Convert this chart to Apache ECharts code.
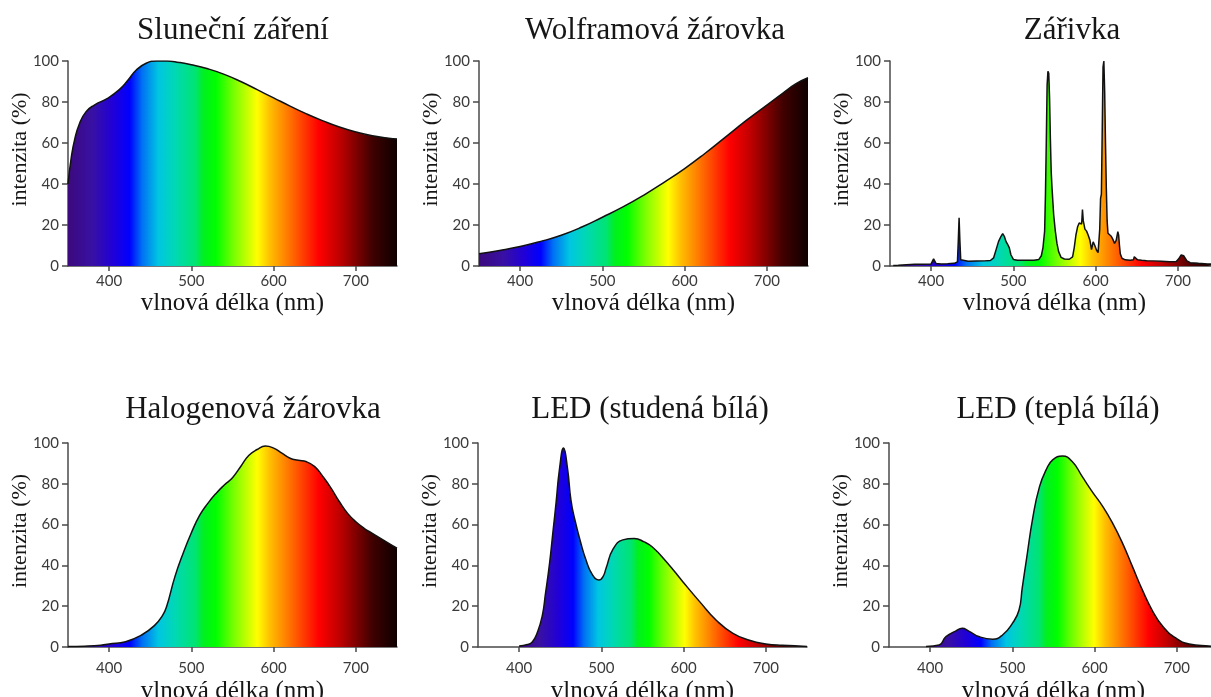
<!DOCTYPE html>
<html><head><meta charset="utf-8">
<script src="https://cdn.jsdelivr.net/npm/echarts@6/dist/echarts.min.js"></script>
<style>html,body{margin:0;padding:0;background:#fff}#c{width:1211px;height:697px}</style>
</head><body><div id="c"></div>
<script>
// ---------- data ----------
const xTicks = [400, 500, 600, 700];
const xAxisName = 'vlnová délka (nm)';
const yAxisName = 'intenzita (%)';
const titles = ['Sluneční záření', 'Wolframová žárovka', 'Zářivka', 'Halogenová žárovka', 'LED (studená bílá)', 'LED (teplá bílá)'];

// spectrum colour stops (relative position along each filled area, from its first to its last point)
const spectrumStops = [0, 0.075, 0.1375, 0.1875, 0.225, 0.275, 0.325, 0.3875, 0.4125, 0.45, 0.5, 0.5375, 0.575, 0.6125, 0.65, 0.7, 0.7625, 0.825, 0.875, 0.925, 1];
const spectrumColors = ['#3c0a7c', '#3810a4', '#2000d8', '#0000ff', '#0070f4', '#00c6e2', '#00d8b4', '#00e472', '#00f020', '#00ff00', '#70ff00', '#b8ff00', '#ffff00', '#ffc000', '#ff9000', '#ff5000', '#ff0000', '#c00000', '#800000', '#400000', '#0e0000'];

const sunData = [[350,40],[354,53],[358,61.5],[364,69.5],[372,75.3],[382,78.5],[398,81.8],[412,85.9],[423,90.7],[433,95.6],[445,98.9],[458,100],[470,100],[485,99.3],[500,98.2],[520,96.2],[540,93.5],[560,90],[580,86],[600,82],[620,78],[640,74.2],[660,70.8],[680,67.8],[700,65.4],[720,63.5],[740,62.3],[750,62]];

const tungstenData = [[350,6],[375,7.6],[400,9.5],[425,12],[450,15],[475,19],[500,23.8],[525,28.8],[550,34.5],[575,40.8],[600,47.5],[625,55],[650,63],[675,71],[700,78.5],[720,84.5],[735,88.8],[750,91.8]];

const fluorescentData = [[354,0.3],[360,0.4],[370,0.6],[380,0.8],[390,0.9],[400,1.0],[402,1.3],[403,3.5],[404,4],[405,2.8],[406,1.2],[412,1.0],[420,1.1],[428,1.3],[432,2],[433,12],[434,23.5],[435,12],[436,3],[438,2.2],[445,2.3],[455,2.4],[465,2.5],[472,2.7],[476,4],[479,8],[482,12],[485,14.5],[487,15.8],[489,14.5],[491,12],[493,10.5],[495,9],[497,5.5],[500,3.2],[505,2.8],[515,2.8],[525,2.8],[531,3.2],[534,5],[536,9],[538,17],[539,35],[540,60],[541,88],[542,95],[543,94],[544,82],[545,62],[546,46],[547,38],[549,25],[551,17],[553,11],[555,7],[558,4.2],[562,3.4],[568,3.3],[572,4.5],[574,9],[576,15],[578,19],[580,21],[582,21.5],[583,20.5],[584,27.5],[585,22],[587,18],[589,17],[591,15],[593,12.7],[595,8],[597,11.8],[599,10],[601,7.8],[603,6.5],[605,18],[606,33],[607,35],[608,65],[609,97],[610,100],[611,85],[612,60],[613,38],[614,22],[615,16],[617,15.5],[619,14.5],[621,13],[623,11],[625,12.5],[627,16.8],[628,15],[629,10],[630,6],[632,3.8],[636,3.0],[642,2.8],[646,3],[647,4.5],[648,5.4],[649,4],[651,3],[656,2.8],[662,2.6],[670,2.5],[680,2.3],[690,2.1],[698,2.2],[701,3.5],[704,5.4],[707,5],[709,4.2],[711,2.5],[715,1.6],[725,1.3],[736,1.0],[750,0.9]];

const halogenData = [[350,0.2],[370,0.4],[390,0.9],[400,1.5],[420,2.6],[440,6],[455,10.5],[465,15.5],[470,20],[480,34.5],[490,46],[500,56],[510,64.5],[520,70.4],[530,75.3],[540,79.4],[550,83],[560,88.5],[570,94],[580,96.8],[590,98.5],[600,97.5],[610,95],[620,92.5],[630,91.5],[640,90.8],[650,88.4],[660,83.5],[670,77.8],[680,71.2],[690,65.5],[700,61.4],[710,58.2],[720,55.7],[730,53.3],[740,50.8],[750,48.4]];

const coolLedData = [[400,0.5],[410,1.2],[416,2.5],[422,7],[428,15],[432,26],[437,41],[441,56],[445,71],[449,87],[454,97.5],[459,87],[463,72],[468,62],[475,51],[481,43],[489,35.5],[497,32.8],[502,34.5],[506,39],[514,47.8],[526,52.5],[540,53.2],[552,51.5],[562,49],[579,41.8],[599,32],[620,22],[640,13],[660,6.7],[680,3.3],[700,1.5],[720,0.8],[750,0.3]];

const warmLedData = [[395,0.3],[411,1],[419,5],[431,7.8],[439,9.2],[447,7.8],[460,5],[476,3.8],[488,5.9],[500,11.6],[508,18],[512,29],[517,42.6],[525,63.8],[533,78.6],[541,86.8],[549,91.7],[561,93.6],[573,90.8],[585,83.5],[597,76.2],[610,68.8],[622,60.6],[634,50.8],[646,39.4],[658,28],[670,18],[683,10],[699,4.3],[715,1.5],[739,0.5],[750,0.3]];

const seriesData = [sunData, tungstenData, fluorescentData, halogenData, coolLedData, warmLedData];
const smoothFlags = [0.5, 0.5, false, 0.5, 0.5, 0.5];

// ---------- layout ----------
const panels = [
  {left: 68,  top: 61,  height: 205, tx: 233,  ty: 15,  row: 0},
  {left: 479, top: 61,  height: 205, tx: 655,  ty: 15,  row: 0},
  {left: 890, top: 61,  height: 205, tx: 1072, ty: 15,  row: 0},
  {left: 68,  top: 443, height: 204, tx: 253,  ty: 394, row: 1},
  {left: 478, top: 443, height: 204, tx: 650,  ty: 394, row: 1},
  {left: 889, top: 443, height: 204, tx: 1058, ty: 394, row: 1}
];
const PW = 329;

const serif = "'Liberation Serif', 'Times New Roman', serif";
const sans = "Lato, 'Open Sans', sans-serif";
const axisColor = '#4a4a4a';

function spectrum() {
  return new echarts.graphic.LinearGradient(0, 0, 1, 0,
    spectrumStops.map((o, i) => ({offset: o, color: spectrumColors[i]})));
}

const option = {
  backgroundColor: '#ffffff',
  animation: false,
  title: panels.map((p, i) => ({
    text: titles[i], left: p.tx, top: p.ty, textAlign: 'center', padding: 0,
    textStyle: {fontFamily: serif, fontSize: 31, fontWeight: 'normal', color: '#161616'}
  })),
  grid: panels.map(p => ({left: p.left, top: p.top, width: PW, height: p.height, containLabel: false, outerBoundsMode: 'none'})),
  xAxis: panels.map((p, i) => ({
    gridIndex: i, type: 'value', min: 350, max: 750,
    name: xAxisName, nameLocation: 'middle', nameGap: p.row ? 32 : 25,
    nameTextStyle: {fontFamily: serif, fontSize: 25, color: '#161616'},
    axisLine: {show: true, onZero: false, lineStyle: {color: axisColor, width: 1.5}},
    axisTick: {show: true, customValues: xTicks, length: 5, lineStyle: {color: axisColor, width: 1.5}},
    axisLabel: {customValues: xTicks, margin: p.row ? 14 : 8, fontFamily: sans, fontSize: 15, color: '#3a3a3a'},
    splitLine: {show: false}
  })),
  yAxis: panels.map((p, i) => ({
    gridIndex: i, type: 'value', min: 0, max: 100, interval: 20,
    name: yAxisName, nameLocation: 'middle', nameGap: 37, nameMoveOverlap: false,
    nameTextStyle: {fontFamily: serif, fontSize: 22, color: '#161616', padding: [0, 0, 0, 28]},
    axisLine: {show: true, lineStyle: {color: axisColor, width: 1.5}},
    axisTick: {show: true, length: 6, lineStyle: {color: axisColor, width: 1.5}},
    axisLabel: {margin: 9, fontFamily: sans, fontSize: 15, color: '#3a3a3a'},
    splitLine: {show: false}
  })),
  series: seriesData.map((d, i) => ({
    type: 'line', xAxisIndex: i, yAxisIndex: i, data: d,
    smooth: smoothFlags[i],
    showSymbol: false, symbol: 'none',
    lineStyle: {color: '#111111', width: 1.5},
    areaStyle: {color: spectrum(), opacity: 1}
  }))
};

const chart = echarts.init(document.getElementById('c'));
chart.setOption(option);
</script>
</body></html>
